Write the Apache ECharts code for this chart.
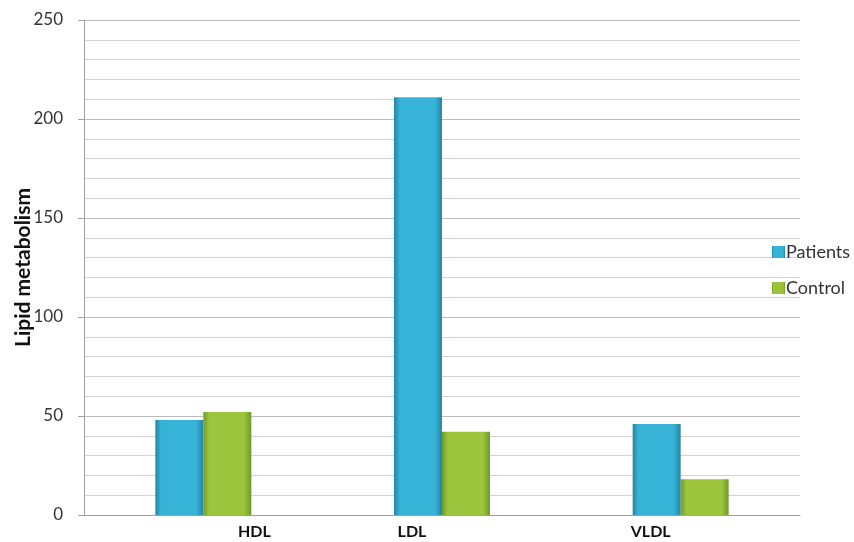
<!DOCTYPE html>
<html><head><meta charset="utf-8">
<script src="https://cdn.jsdelivr.net/npm/echarts@6/dist/echarts.min.js"></script>
<style>html,body{margin:0;padding:0;background:#fff}#c{width:854px;height:542px}</style>
</head><body><div id="c"></div>
<script>
var categories = ['HDL', 'LDL', 'VLDL'];
var patients = [48, 211, 46];
var control = [52, 42, 18];
var seriesNames = ['Patients', 'Control'];

var chart = echarts.init(document.getElementById('c'));
function grad(edge, mid) {
  return new echarts.graphic.LinearGradient(0, 0, 1, 0, [
    {offset: 0, color: edge}, {offset: 0.12, color: mid}, {offset: 0.85, color: mid}, {offset: 1, color: edge}
  ]);
}
chart.setOption({
  animation: false,
  textStyle: {fontFamily: 'Lato'},
  grid: {left: 84, right: 54, top: 20, bottom: 27, containLabel: false, outerBoundsMode: 'none'},
  legend: {
    orient: 'vertical', left: 767, top: 238, itemGap: 18,
    itemWidth: 13, itemHeight: 12, icon: 'rect',
    textStyle: {fontSize: 18, color: '#333', fontFamily: 'Lato', padding: [0, 0, 0, -4]},
    data: seriesNames
  },
  xAxis: {
    type: 'category', data: categories,
    axisLine: {lineStyle: {color: '#a0a0a0'}},
    axisTick: {show: false},
    axisLabel: {
      margin: 9,
      formatter: function (v, i) { return i === 0 ? '{a|' + v + '}' : '{b|' + v + '}'; },
      rich: {
        a: {fontWeight: 'bold', fontSize: 16, color: '#111', padding: [0, 0, 0, 102]},
        b: {fontWeight: 'bold', fontSize: 16, color: '#111', padding: [0, 60, 0, 0]}
      }
    }
  },
  yAxis: {
    type: 'value', min: 0, max: 250, interval: 50,
    name: 'Lipid metabolism', nameLocation: 'middle', nameGap: 50, nameRotate: 90,
    nameMoveOverlap: false,
    nameTextStyle: {fontWeight: 'bold', fontSize: 21, color: '#111'},
    axisLine: {show: true, lineStyle: {color: '#a0a0a0'}},
    axisTick: {show: true, length: 6, lineStyle: {color: '#a0a0a0'}},
    axisLabel: {fontSize: 17, color: '#333', margin: 21},
    splitLine: {lineStyle: {color: '#bcbcbc', width: 1}},
    minorTick: {show: false, splitNumber: 5},
    minorSplitLine: {show: true, lineStyle: {color: '#d2d2d2', width: 1}}
  },
  series: [
    {name: seriesNames[0], type: 'bar', data: patients, barWidth: 48, barGap: '0%',
     itemStyle: {color: grad('#2585a6', '#36b3d6')}},
    {name: seriesNames[1], type: 'bar', data: control, barWidth: 48, barGap: '0%',
     itemStyle: {color: grad('#6f9a2a', '#9cc43c')}}
  ]
});
</script></body></html>
